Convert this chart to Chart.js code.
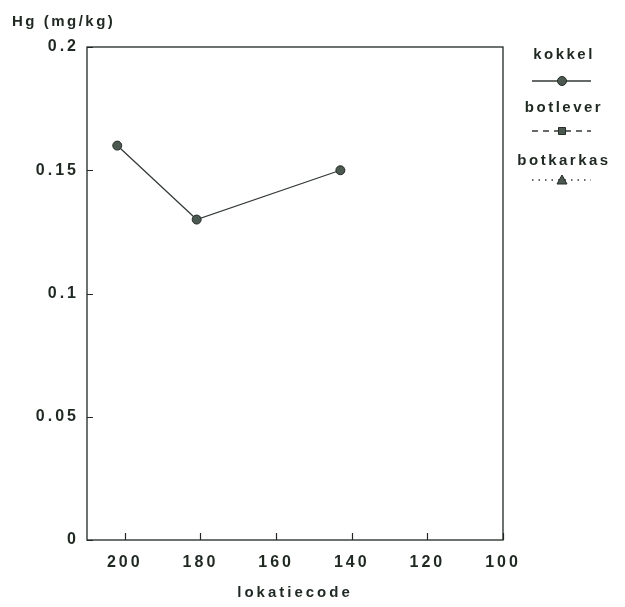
<!DOCTYPE html>
<html>
<head>
<meta charset="utf-8">
<script src="https://cdn.jsdelivr.net/npm/chart.js@4/dist/chart.umd.min.js"></script>
<style>
html,body{margin:0;padding:0;background:#fff;}
#wrap{width:625px;height:607px;position:relative;}
</style>
</head>
<body>
<div id="wrap"><canvas id="c" width="625" height="607"></canvas></div>
<script>
// ---- data ----
const seriesNames = ['kokkel', 'botlever', 'botkarkas'];
const kokkelX = [202, 181, 143];
const kokkelY = [0.16, 0.13, 0.15];
const botleverX = [];
const botleverY = [];
const botkarkasX = [];
const botkarkasY = [];
const xTicks = [200, 180, 160, 140, 120, 100];
const yTicks = [0, 0.05, 0.1, 0.15, 0.2];
const yTickLabels = ['0', '0.05', '0.1', '0.15', '0.2'];
const xTitle = 'lokatiecode';
const yTitle = 'Hg (mg/kg)';

const INK = '#1f2922';
const FONT = "'Liberation Sans', Arial, sans-serif";

function pts(xs, ys) { return xs.map((x, i) => ({x: x, y: ys[i]})); }

const spacingPlugin = {
  id: 'spacing',
  beforeUpdate(chart) { chart.ctx.letterSpacing = '3px'; },
  beforeLayout(chart) { chart.ctx.letterSpacing = '3px'; },
  beforeDraw(chart) { chart.ctx.letterSpacing = '3px'; }
};

const framePlugin = {
  id: 'frame',
  afterDraw(chart) {
    const ctx = chart.ctx;
    const a = chart.chartArea;
    const xs = chart.scales.x, ys = chart.scales.y;
    ctx.save();
    ctx.strokeStyle = INK;
    ctx.lineWidth = 1.3;
    ctx.strokeRect(a.left, a.top, a.right - a.left, a.bottom - a.top);
    ctx.lineWidth = 1.2;
    ctx.beginPath();
    xTicks.forEach(v => {
      const px = Math.round(xs.getPixelForValue(v)) + 0.5;
      ctx.moveTo(px, a.bottom); ctx.lineTo(px, a.bottom - 7);
    });
    yTicks.forEach(v => {
      const py = Math.round(ys.getPixelForValue(v)) + 0.5;
      ctx.moveTo(a.left, py); ctx.lineTo(a.left + 6, py);
    });
    ctx.stroke();

    // y title
    ctx.fillStyle = INK;
    ctx.letterSpacing = '2.5px';
    ctx.font = 'bold 15px ' + FONT;
    ctx.textAlign = 'left';
    ctx.textBaseline = 'alphabetic';
    ctx.fillText(yTitle, 12, 26);

    // legend
    const cx = a.right + 59;
    const textRows = [a.top + 8, a.top + 61, a.top + 114];
    const sampleRows = [a.top + 34, a.top + 84, a.top + 133];
    chart.data.datasets.forEach((ds, i) => {
      const ty = textRows[i];
      ctx.letterSpacing = '2.5px';
      ctx.font = 'bold 15px ' + FONT;
      ctx.textAlign = 'center';
      ctx.textBaseline = 'middle';
      ctx.fillStyle = INK;
      ctx.fillText(ds.label, cx + 2, ty);
      const ly = sampleRows[i];
      ctx.strokeStyle = ds.borderColor;
      ctx.lineWidth = ds.pointStyle === 'triangle' ? 1.6 : 1.3;
      ctx.setLineDash(ds.borderDash || []);
      ctx.beginPath();
      ctx.moveTo(cx - 30, ly); ctx.lineTo(cx + 29, ly);
      ctx.stroke();
      ctx.setLineDash([]);
      // marker
      ctx.fillStyle = ds.pointBackgroundColor;
      ctx.strokeStyle = ds.pointBorderColor;
      ctx.lineWidth = 1;
      ctx.beginPath();
      if (ds.pointStyle === 'rect') {
        const r = 3.5;
        ctx.rect(cx - r, ly - r, 2 * r, 2 * r);
      } else if (ds.pointStyle === 'triangle') {
        ctx.moveTo(cx, ly - 5); ctx.lineTo(cx + 5, ly + 4); ctx.lineTo(cx - 5, ly + 4); ctx.closePath();
      } else {
        ctx.arc(cx, ly, 4.5, 0, Math.PI * 2);
      }
      ctx.fill(); ctx.stroke();
    });
    ctx.restore();
  }
};

const common = {
  borderColor: '#343a35',
  borderWidth: 1.3,
  pointRadius: 4.5,
  pointBackgroundColor: '#4c5950',
  pointBorderColor: '#252b26',
  pointBorderWidth: 1,
  showLine: true,
  fill: false,
  tension: 0
};

new Chart(document.getElementById('c'), {
  type: 'scatter',
  data: {
    datasets: [
      Object.assign({label: seriesNames[0], data: pts(kokkelX, kokkelY), pointStyle: 'circle'}, common),
      Object.assign({label: seriesNames[1], data: pts(botleverX, botleverY), pointStyle: 'rect', borderDash: [6, 5]}, common),
      Object.assign({label: seriesNames[2], data: pts(botkarkasX, botkarkasY), pointStyle: 'triangle', borderDash: [1.5, 5]}, common)
    ]
  },
  options: {
    responsive: false,
    animation: false,
    devicePixelRatio: 1,
    layout: {padding: {left: 0, top: 47, right: 122, bottom: 0}},
    plugins: {legend: {display: false}, tooltip: {enabled: false}, title: {display: false}},
    scales: {
      x: {
        type: 'linear',
        reverse: true,
        min: 100,
        max: 210,
        afterBuildTicks(s) { s.ticks = xTicks.map(v => ({value: v})); },
        afterFit(s) { s.height = 67; },
        grid: {display: false, drawTicks: false},
        border: {display: false},
        ticks: {
          color: INK,
          padding: 13,
          maxRotation: 0,
          autoSkip: false,
          font: {family: FONT, size: 16, weight: 'bold'},
          callback: (v) => String(v)
        },
        title: {
          display: true,
          text: xTitle,
          color: INK,
          font: {family: FONT, size: 15, weight: 'bold'},
          padding: {top: 0, bottom: 5}
        }
      },
      y: {
        type: 'linear',
        min: 0,
        max: 0.2,
        afterBuildTicks(s) { s.ticks = yTicks.map(v => ({value: v})); },
        afterFit(s) { s.width = 87; },
        grid: {display: false, drawTicks: false},
        border: {display: false},
        ticks: {
          color: INK,
          padding: 8,
          autoSkip: false,
          font: {family: FONT, size: 16, weight: 'bold'},
          callback: (v) => { const i = yTicks.indexOf(v); return i >= 0 ? yTickLabels[i] : ''; }
        }
      }
    }
  },
  plugins: [spacingPlugin, framePlugin]
});
</script>
</body>
</html>
